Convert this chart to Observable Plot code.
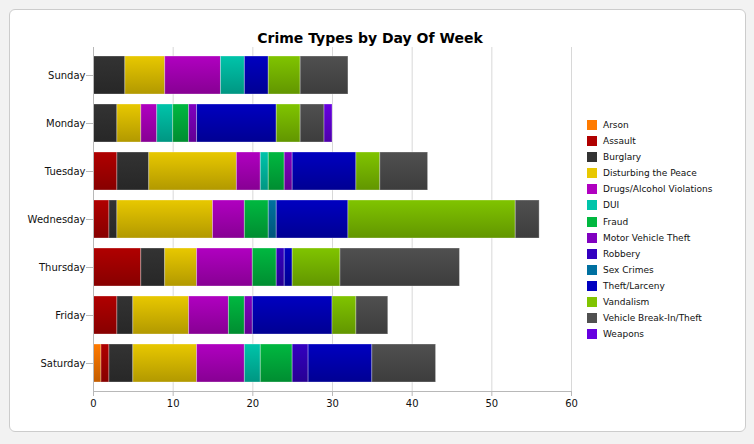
<!DOCTYPE html>
<html><head><meta charset="utf-8">
<script src="https://cdn.jsdelivr.net/npm/d3@7"></script>
<script src="https://cdn.jsdelivr.net/npm/@observablehq/plot@0.6"></script>
<style>
body{margin:0;background:#f2f2f2;font-family:"DejaVu Sans",Verdana,sans-serif;}
#wrap{position:relative;width:754px;height:444px;overflow:hidden;}
#card{position:absolute;left:9px;top:9px;width:735px;height:421px;background:#fff;border:1px solid #ccc;border-radius:6px;}
#title{position:absolute;left:0;width:740px;top:30px;text-align:center;font-weight:bold;font-size:14px;color:#000;}
#chart{position:absolute;left:0;top:0;}
#legend{position:absolute;left:587px;top:117px;font-size:9px;color:#111;}
#legend .it{height:16.08px;display:flex;align-items:center;}
#legend .sw{width:10px;height:10px;margin-right:6px;}
</style></head>
<body>
<svg width="0" height="0" style="position:absolute"><defs id="defs"></defs></svg>
<div id="wrap">
<div id="card"></div>
<div id="title">Crime Types by Day Of Week</div>
<div id="chart"></div>
<div id="legend"></div>
</div>
<script>
const days = ["Sunday","Monday","Tuesday","Wednesday","Thursday","Friday","Saturday"];
const types = ["Arson","Assault","Burglary","Disturbing the Peace","Drugs/Alcohol Violations","DUI","Fraud","Motor Vehicle Theft","Robbery","Sex Crimes","Theft/Larceny","Vandalism","Vehicle Break-In/Theft","Weapons"];
const colors = ["#ff7a00","#b00000","#333333","#e8c800","#b000c0","#00c4aa","#00b840","#8000c0","#3300c0","#0070a0","#0000c0","#80c400","#505050","#6600e0"];
// values per type, in day order Sunday..Saturday
const arson      = [0,0,0,0,0,0,1];
const assault    = [0,0,3,2,6,3,1];
const burglary   = [4,3,4,1,3,2,3];
const disturbing = [5,3,11,12,4,7,8];
const drugs      = [7,2,3,4,7,5,6];
const dui        = [3,2,1,0,0,0,2];
const fraud      = [0,2,2,3,3,2,4];
const mvt        = [0,1,1,0,0,1,0];
const robbery    = [0,0,0,0,1,0,2];
const sexCrimes  = [0,0,0,1,0,0,0];
const theft      = [3,10,8,9,1,10,8];
const vandalism  = [4,3,3,21,6,3,0];
const vehicleBI  = [6,3,6,3,15,4,8];
const weapons    = [0,1,0,0,0,0,0];
const xTicks = [0,10,20,30,40,50,60];

const series = [arson,assault,burglary,disturbing,drugs,dui,fraud,mvt,robbery,sexCrimes,theft,vandalism,vehicleBI,weapons];
const rows = [];
days.forEach((day,di)=>{
  types.forEach((type,ti)=>{
    const v = series[ti][di];
    if (v > 0) rows.push({day,type,value:v});
  });
});

// gradients
const defs = d3.select("#defs");
const urls = colors.map((c,i)=>{
  const g = defs.append("linearGradient").attr("id","g"+i).attr("x1",0).attr("y1",0).attr("x2",0).attr("y2",1);
  g.append("stop").attr("offset","0%").attr("stop-color",c);
  g.append("stop").attr("offset","100%").attr("stop-color",d3.color(c).darker(0.75).formatHex());
  return `url(#g${i})`;
});

const plot = Plot.plot({
  width:754, height:444,
  marginLeft:93, marginRight:183, marginTop:47, marginBottom:53,
  style:{background:"transparent", fontFamily:"DejaVu Sans, Verdana, sans-serif", fontSize:"10px", color:"#111"},
  x:{domain:[0,60], label:null},
  y:{domain:days, paddingInner:0.2, paddingOuter:0.14, label:null},
  color:{domain:types, range:urls},
  marks:[
    Plot.gridX(xTicks,{stroke:"#d8d8d8", strokeOpacity:1}),
    Plot.barX(rows, Plot.stackX({x:"value", y:"day", fill:"type", stroke:"#ffffff", strokeOpacity:0.3, strokeWidth:1})),
    Plot.ruleX([0],{stroke:"#b8b8b8"}),
    Plot.frame({anchor:"bottom", stroke:"#b8b8b8"}),
    Plot.axisX(xTicks,{tickSize:5, tickPadding:3, stroke:"#b8b8b8", fill:"#111", label:null}),
    Plot.axisY({tickSize:7, tickPadding:1, stroke:"#b8b8b8", fill:"#111", label:null})
  ]
});
document.getElementById("chart").appendChild(plot);

const leg = d3.select("#legend");
types.forEach((t,i)=>{
  const it = leg.append("div").attr("class","it");
  it.append("div").attr("class","sw").style("background",colors[i]);
  it.append("span").text(t);
});
</script>
</body></html>
